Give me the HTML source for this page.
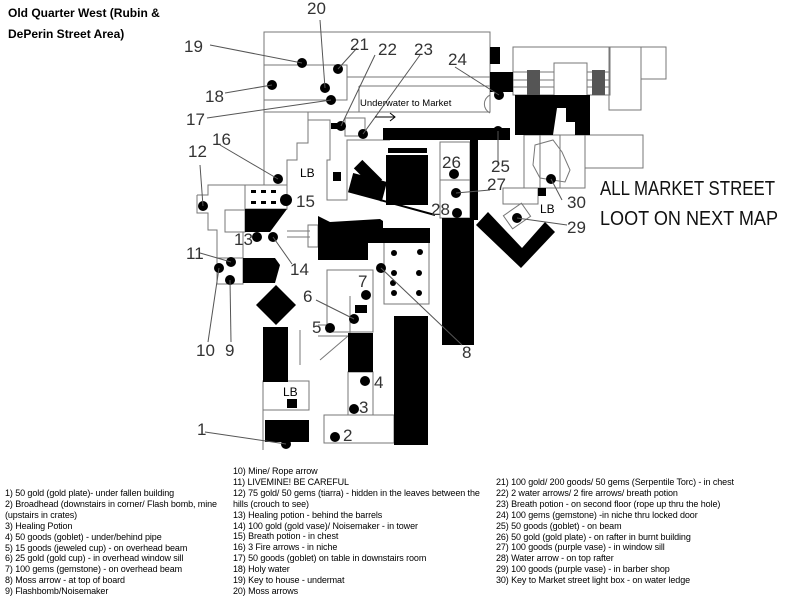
<!DOCTYPE html>
<html><head><meta charset="utf-8"><style>
body{margin:0;background:#fff;width:800px;height:600px;overflow:hidden;position:relative;font-family:"Liberation Sans",sans-serif}
.t{position:absolute;font-size:9px;line-height:10.9px;color:#000;white-space:nowrap;letter-spacing:-0.1px}
svg{position:absolute;left:0;top:0}
</style></head><body>
<svg width="800" height="600" viewBox="0 0 800 600">
<g font-family="Liberation Sans, sans-serif">
<text x="8" y="17" font-size="12" font-weight="bold">Old Quarter West (Rubin &amp;</text>
<text x="8" y="38" font-size="12" font-weight="bold"> DePerin Street Area)</text>
</g>
<g fill="none" stroke="#777" stroke-width="1">
<rect x="264" y="32" width="226" height="80"/>
<rect x="264" y="65" width="83" height="35"/>
<line x1="347" y1="77" x2="490" y2="77"/><line x1="359" y1="86" x2="490" y2="86"/>
<line x1="359" y1="86" x2="359" y2="112"/>
<polyline points="264,112 264,185 287,185 287,160 297,160 297,143 308,143 308,112"/>
<polyline points="308,120 330,120 330,160 327,160 327,200 347,200 347,140 390,140"/>
<rect x="345" y="118" width="20" height="18"/>
<polyline points="197,195 208,195 208,185 245,185"/><polyline points="197,195 197,213 208,213 208,230 217,230 217,260"/>
<rect x="245" y="185" width="42" height="24"/>
<rect x="225" y="210" width="20" height="22"/>
<line x1="287" y1="237" x2="310" y2="237"/><line x1="287" y1="231" x2="310" y2="231"/><rect x="308" y="225" width="10" height="22"/>
<rect x="217" y="258" width="26" height="26"/>
<polyline points="243,232 243,258"/>
<rect x="327" y="270" width="46" height="62"/>
<line x1="318" y1="325" x2="330" y2="325"/><line x1="318" y1="336" x2="348" y2="336"/><line x1="300" y1="330" x2="300" y2="365"/>
<line x1="320" y1="360" x2="348" y2="336"/><line x1="350" y1="296" x2="350" y2="333"/>
<rect x="348" y="372" width="25" height="43"/>
<rect x="263" y="381" width="46" height="29"/><line x1="263" y1="410" x2="263" y2="450"/><line x1="263" y1="410" x2="309" y2="410"/>
<rect x="324" y="415" width="70" height="28"/>
<rect x="384" y="242" width="45" height="62"/>
<rect x="440" y="142" width="30" height="38"/><rect x="440" y="180" width="30" height="38"/>
<rect x="513" y="47" width="97" height="48"/>
<line x1="513" y1="72" x2="610" y2="72"/><line x1="513" y1="80" x2="610" y2="80"/><line x1="513" y1="87" x2="610" y2="87"/>
<rect x="554" y="63" width="33" height="34" fill="#fff"/>
<rect x="609" y="47" width="32" height="63"/><rect x="641" y="47" width="25" height="32"/>
<path d="M490 95 A10 10 0 0 0 490 113"/>
<rect x="524" y="135" width="61" height="53"/><line x1="540" y1="135" x2="540" y2="188"/><line x1="560" y1="135" x2="560" y2="188"/>
<rect x="585" y="135" width="58" height="33"/>
<polygon points="535,145 553,140 562,152 570,170 565,182 540,178 533,165"/>
<rect x="503" y="188" width="35" height="16"/>
<rect x="506" y="208" width="22" height="16" transform="rotate(-35 517 216)"/>
</g>
<g fill="#555" stroke="none">
<rect x="527" y="70" width="13" height="25"/><rect x="592" y="70" width="13" height="25"/>
</g>
<g fill="#000">
<rect x="490" y="47" width="10" height="17"/><rect x="490" y="72" width="23" height="20"/>
<rect x="383" y="128" width="127" height="12"/>
<polygon points="515,95 590,95 590,135 575,135 575,122 566,122 566,108 557,108 553,135 515,135"/>
<rect x="388" y="148" width="39" height="5"/><rect x="386" y="155" width="42" height="50"/>
<rect x="362" y="160" width="12" height="28" transform="rotate(-45 368 174)"/>
<rect x="350" y="177" width="35" height="20" transform="rotate(15 367 187)"/>
<line x1="380" y1="200" x2="435" y2="215" stroke="#000" stroke-width="2"/>
<rect x="470" y="130" width="8" height="90"/>
<rect x="442" y="218" width="32" height="127"/>
<polygon points="476,225 488,212 522,248 545,222 555,232 521,268"/>
<polygon points="318,216 330,222 380,219 383,221 383,228 430,228 430,243 368,243 368,260 318,260"/>
<polygon points="245,209 287,209 270,232 245,232"/>
<polygon points="243,258 275,258 280,265 275,283 243,283"/>
<polygon points="276,285 296,305 276,325 256,305"/>
<rect x="263" y="327" width="25" height="55"/>
<rect x="287" y="399" width="10" height="9"/>
<rect x="265" y="420" width="44" height="22"/>
<rect x="348" y="333" width="25" height="39"/>
<rect x="394" y="316" width="34" height="129"/>
<rect x="331" y="123" width="6" height="6"/><rect x="333" y="172" width="8" height="9"/><rect x="538" y="188" width="8" height="8"/>
<rect x="355" y="305" width="12" height="8"/>
<g>
<circle cx="286" cy="444" r="5"/><circle cx="335" cy="437" r="5"/><circle cx="354" cy="409" r="5"/><circle cx="365" cy="381" r="5"/>
<circle cx="330" cy="328" r="5"/><circle cx="354" cy="319" r="5"/><circle cx="366" cy="295" r="5"/><circle cx="381" cy="268" r="5"/>
<circle cx="230" cy="280" r="5"/><circle cx="219" cy="268" r="5"/><circle cx="231" cy="262" r="5"/><circle cx="203" cy="206" r="5"/>
<circle cx="257" cy="237" r="5"/><circle cx="273" cy="237" r="5"/><circle cx="286" cy="200" r="6"/><circle cx="278" cy="179" r="5"/>
<circle cx="331" cy="100" r="5"/><circle cx="272" cy="85" r="5"/><circle cx="302" cy="63" r="5"/><circle cx="325" cy="88" r="5"/>
<circle cx="338" cy="69" r="5"/><circle cx="341" cy="126" r="5"/><circle cx="363" cy="134" r="5"/><circle cx="499" cy="95" r="5"/>
<circle cx="498" cy="131" r="5"/><circle cx="454" cy="174" r="5"/><circle cx="456" cy="193" r="5"/><circle cx="457" cy="213" r="5"/>
<circle cx="517" cy="218" r="5"/><circle cx="551" cy="179" r="5"/>
<circle cx="394" cy="253" r="3"/><circle cx="420" cy="252" r="3"/><circle cx="394" cy="273" r="3"/><circle cx="419" cy="273" r="3"/><circle cx="394" cy="293" r="3"/><circle cx="419" cy="293" r="3"/>
<circle cx="393" cy="283" r="3"/>
<rect x="251" y="190" width="5" height="3"/><rect x="261" y="190" width="5" height="3"/><rect x="271" y="190" width="5" height="3"/>
<rect x="251" y="201" width="5" height="3"/><rect x="261" y="201" width="5" height="3"/><rect x="271" y="201" width="5" height="3"/>
</g>
</g>
<g stroke="#555" stroke-width="1" fill="none">
<line x1="210" y1="45" x2="302" y2="63"/><line x1="320" y1="20" x2="325" y2="88"/><line x1="357" y1="48" x2="338" y2="69"/>
<line x1="375" y1="55" x2="341" y2="126"/><line x1="420" y1="55" x2="363" y2="134"/><line x1="455" y1="67" x2="499" y2="95"/>
<line x1="225" y1="93" x2="272" y2="85"/><line x1="207" y1="118" x2="331" y2="100"/><line x1="220" y1="145" x2="278" y2="179"/>
<line x1="200" y1="165" x2="203" y2="206"/><line x1="200" y1="253" x2="231" y2="262"/><line x1="208" y1="342" x2="219" y2="268"/>
<line x1="231" y1="342" x2="230" y2="280"/><line x1="292" y1="264" x2="273" y2="237"/><line x1="316" y1="300" x2="354" y2="319"/>
<line x1="462" y1="345" x2="381" y2="268"/><line x1="205" y1="432" x2="286" y2="444"/><line x1="567" y1="225" x2="517" y2="218"/>
<line x1="562" y1="200" x2="551" y2="179"/><line x1="490" y1="190" x2="456" y2="193"/><line x1="498" y1="131" x2="498" y2="165"/>
<line x1="375" y1="117" x2="395" y2="117" stroke="#000"/><polyline points="390,113 395,117 390,121" stroke="#000"/>
</g>
<g font-family="Liberation Sans, sans-serif" fill="#333" font-size="17">
<text x="307" y="14">20</text><text x="184" y="52">19</text><text x="350" y="50">21</text><text x="378" y="55">22</text>
<text x="414" y="55">23</text><text x="448" y="65">24</text><text x="205" y="102">18</text><text x="186" y="125">17</text>
<text x="212" y="145">16</text><text x="188" y="157">12</text><text x="296" y="207">15</text><text x="442" y="168">26</text>
<text x="491" y="172">25</text><text x="487" y="190">27</text><text x="431" y="215">28</text><text x="567" y="208">30</text>
<text x="567" y="233">29</text><text x="234" y="245">13</text><text x="290" y="275">14</text><text x="186" y="259">11</text>
<text x="196" y="356">10</text><text x="225" y="356">9</text><text x="358" y="287">7</text><text x="303" y="302">6</text>
<text x="312" y="333">5</text><text x="462" y="358">8</text><text x="374" y="388">4</text><text x="359" y="413">3</text>
<text x="343" y="441">2</text><text x="197" y="435">1</text>
<text x="300" y="177" font-size="12" fill="#000">LB</text><text x="540" y="213" font-size="12" fill="#000">LB</text>
<text x="283" y="396" font-size="12" fill="#000">LB</text>
<text x="360" y="106" font-size="9.5" fill="#000">Underwater to Market</text>
<text x="600" y="195" font-size="20" fill="#111" textLength="175" lengthAdjust="spacingAndGlyphs">ALL MARKET STREET</text>
<text x="600" y="225" font-size="20" fill="#111" textLength="178" lengthAdjust="spacingAndGlyphs">LOOT ON NEXT MAP</text>
</g>
</svg>
<div class="t" style="left:5px;top:488px">1) 50 gold (gold plate)- under fallen building<br>2) Broadhead (downstairs in corner/ Flash bomb, mine<br>(upstairs in crates)<br>3) Healing Potion<br>4) 50 goods (goblet) - under/behind pipe<br>5) 15 goods (jeweled cup) - on overhead beam<br>6) 25 gold (gold cup) - in overhead window sill<br>7) 100 gems (gemstone) - on overhead beam<br>8) Moss arrow - at top of board<br>9) Flashbomb/Noisemaker</div>
<div class="t" style="left:233px;top:466px">10) Mine/ Rope arrow<br>11) LIVEMINE! BE CAREFUL<br>12) 75 gold/ 50 gems (tiarra) - hidden in the leaves between the<br>hills (crouch to see)<br>13) Healing potion - behind the barrels<br>14) 100 gold (gold vase)/ Noisemaker - in tower<br>15) Breath potion - in chest<br>16) 3 Fire arrows - in niche<br>17) 50 goods (goblet) on table in downstairs room<br>18) Holy water<br>19) Key to house - undermat<br>20) Moss arrows</div>
<div class="t" style="left:496px;top:477px">21) 100 gold/ 200 goods/ 50 gems (Serpentile Torc) - in chest<br>22) 2 water arrows/ 2 fire arrows/ breath potion<br>23) Breath potion - on second floor (rope up thru the hole)<br>24) 100 gems (gemstone) -in niche thru locked door<br>25) 50 goods (goblet) - on beam<br>26) 50 gold (gold plate) - on rafter in burnt building<br>27) 100 goods (purple vase) - in window sill<br>28) Water arrow - on top rafter<br>29) 100 goods (purple vase) - in barber shop<br>30) Key to Market street light box - on water ledge</div>
</body></html>
